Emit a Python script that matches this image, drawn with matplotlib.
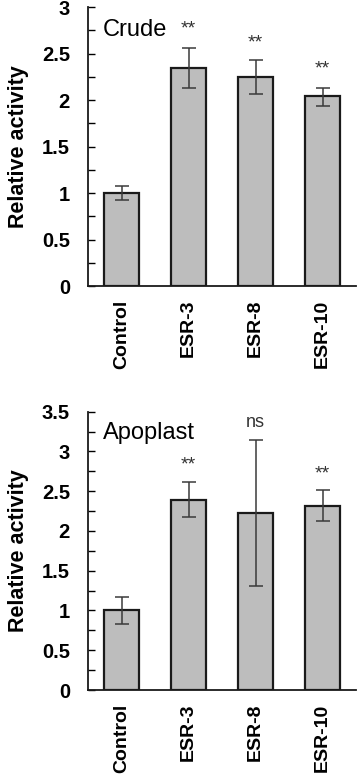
import matplotlib
matplotlib.use("Agg")
import matplotlib.pyplot as plt
from matplotlib.ticker import MultipleLocator

plt.rcParams['font.family'] = ['Liberation Sans', 'DejaVu Sans']

categories = ["Control", "ESR-3", "ESR-8", "ESR-10"]

crude_values = [1.0, 2.34, 2.25, 2.04]
crude_err_low = [0.07, 0.21, 0.19, 0.10]
crude_err_high = [0.07, 0.22, 0.18, 0.09]
crude_marks = ["", "**", "**", "**"]

apo_values = [1.0, 2.39, 2.23, 2.31]
apo_err_low = [0.17, 0.22, 0.92, 0.18]
apo_err_high = [0.165, 0.22, 0.91, 0.21]
apo_marks = ["", "**", "ns", "**"]

W, H = 358, 777
fig = plt.figure(figsize=(W / 100, H / 100), dpi=100)

def panel(rect, values, lo, hi, marks, ymax, yticks_major, title, title_y, mark_offsets):
    ax = fig.add_axes(rect)
    x = list(range(len(categories)))
    ax.bar(x, values, width=0.52, color="#bdbdbd", edgecolor="#1a1a1a", linewidth=1.6, zorder=2)
    ax.errorbar(x, values, yerr=[lo, hi], fmt="none", ecolor="#3a3a3a", elinewidth=1.1,
                capsize=5, capthick=1.1, zorder=3)
    ax.set_xlim(-0.5, 3.5)
    ax.set_ylim(0, ymax)
    ax.yaxis.set_major_locator(MultipleLocator(yticks_major))
    ax.yaxis.set_minor_locator(MultipleLocator(0.25))
    ax.set_yticklabels([("%g" % t) for t in ax.get_yticks()])
    ax.tick_params(axis="y", which="both", direction="in", length=5, width=1.0, labelsize=14.5, pad=13)
    for lab in ax.get_yticklabels():
        lab.set_fontweight("bold")
    ax.set_xticks(x)
    ax.set_xticklabels(categories, rotation=90, fontsize=14, fontweight="bold")
    ax.tick_params(axis="x", length=0, pad=10)
    for s in ["top", "right"]:
        ax.spines[s].set_visible(False)
    for s in ["left", "bottom"]:
        ax.spines[s].set_linewidth(1.3)
        ax.spines[s].set_color("#1a1a1a")
    ax.set_ylabel("Relative activity", fontsize=15.5, fontweight="bold", labelpad=9)
    ax.text(-0.28, title_y, title, fontsize=17, va="center", ha="left")
    for i, m in enumerate(marks):
        if m:
            ax.text(i, values[i] + hi[i] + mark_offsets[i], m, ha="center", va="center",
                    fontsize=14 if m == "**" else 13, color="#333333")
    return ax

panel([88 / W, 1 - 286 / H, (356 - 88) / W, (286 - 7) / H],
      crude_values, crude_err_low, crude_err_high, crude_marks, 3, 0.5,
      "Crude", 2.75, [0, 0.20, 0.18, 0.20])
panel([88 / W, 1 - 690 / H, (356 - 88) / W, (690 - 411.7) / H],
      apo_values, apo_err_low, apo_err_high, apo_marks, 3.5, 0.5,
      "Apoplast", 3.23, [0, 0.22, 0.23, 0.2])

fig.savefig("out.png", dpi=100, facecolor="white")
